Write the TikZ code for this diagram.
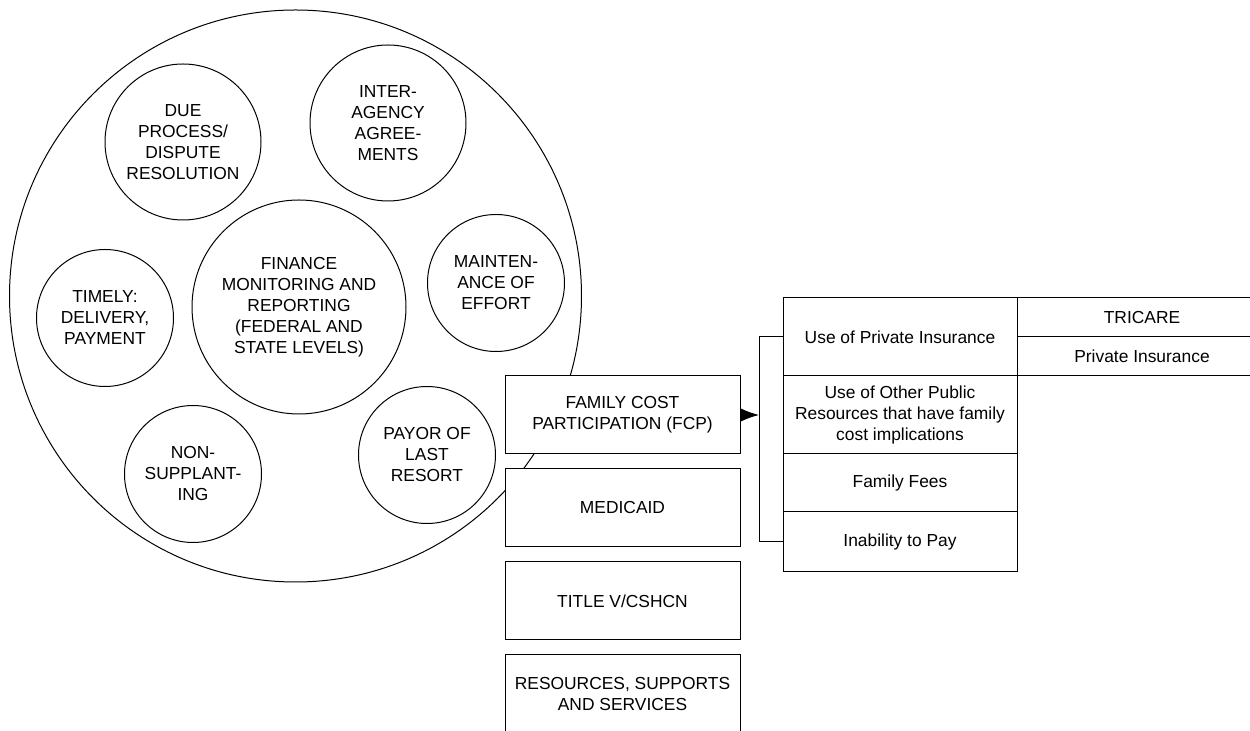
\documentclass[tikz,border=0pt]{standalone}
\usepackage{fontspec}
\setmainfont{Liberation Sans}
\usetikzlibrary{positioning,arrows.meta}

\begin{document}
\begin{tikzpicture}[x=0.5pt, y=-0.5pt,
    every node/.style={font=\fontsize{8.7}{10.5}\selectfont, align=center, inner sep=0pt, outer sep=0pt},
    topic/.style={circle, draw, line width=0.5pt},
    fbox/.style={draw, fill=white, line width=0.5pt, minimum width=117.5pt, minimum height=39pt},
    row/.style={draw, fill=white, line width=0.5pt, minimum width=117pt},
    cell/.style={draw, line width=0.5pt, minimum width=125pt, minimum height=19.5pt}]
    \useasboundingbox (0,0) rectangle (1250,731);

    % big ring with the topics inside
    \node[topic, minimum size=286pt] (ring) at (295.5,296) {};
    \node[topic, minimum size=78pt] (due) at (183,142) {DUE\\PROCESS/\\DISPUTE\\RESOLUTION};
    \node[topic, minimum size=78pt] (inter) at (388,123) {INTER-\\AGENCY\\AGREE-\\MENTS};
    \node[topic, minimum size=107pt] (fin) at (299,307) {FINANCE\\MONITORING AND\\REPORTING\\(FEDERAL AND\\STATE LEVELS)};
    \node[topic, minimum size=68.5pt] (timely) at (105,318) {TIMELY:\\DELIVERY,\\PAYMENT};
    \node[topic, minimum size=68.5pt] (maint) at (496,283) {MAINTEN-\\ANCE OF\\EFFORT};
    \node[topic, minimum size=68.5pt] (nonsup) at (193,474) {NON-\\SUPPLANT-\\ING};
    \node[topic, minimum size=68.5pt] (payor) at (427,455) {PAYOR OF\\LAST\\RESORT};

    % column of boxes
    \node[fbox, anchor=north west] (fcp) at (505,376) {FAMILY COST\\PARTICIPATION (FCP)};
    \node[fbox, below=7.5pt of fcp] (med) {MEDICAID};
    \node[fbox, below=7.5pt of med] (title) {TITLE V/CSHCN};
    \node[fbox, below=7.5pt of title] (res) {RESOURCES, SUPPORTS\\AND SERVICES};

    % FCP breakdown
    \node[row, minimum height=39pt, anchor=north west] (priv) at (783,298) {Use of Private Insurance};
    \node[row, minimum height=39pt, below=0pt of priv] (other) {Use of Other Public\\Resources that have family\\cost implications};
    \node[row, minimum height=29pt, below=0pt of other] (fees) {Family Fees};
    \node[row, minimum height=30pt, below=0pt of fees] (inab) {Inability to Pay};

    \node[cell, anchor=north west] (tri) at (priv.north east) {TRICARE};
    \node[cell, below=0pt of tri] (pins) {Private Insurance};

    \coordinate (brk) at (759,415);
    \draw[line width=0.5pt] (priv.west) -- ++(-24,0) |- (inab.west);
    \draw[line width=0.5pt, -{Latex[length=9pt,width=6.5pt]}] (fcp.east) -- (brk);
\end{tikzpicture}
\end{document}
